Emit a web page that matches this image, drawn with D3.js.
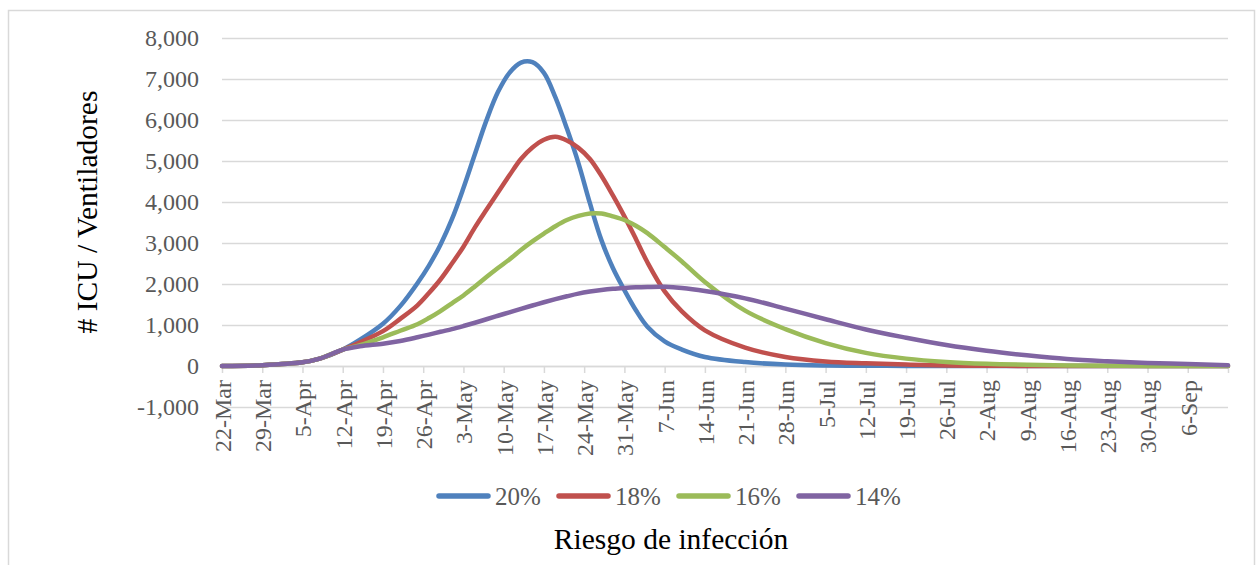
<!DOCTYPE html>
<html>
<head>
<meta charset="utf-8">
<script src="https://cdn.jsdelivr.net/npm/d3@7"></script>
<style>
  body { margin: 0; background: #fff; }
  svg { display: block; font-family: "Liberation Serif", serif; }
</style>
</head>
<body>
<div id="chart"></div>
<script>
// Days counted from 22-Mar
const days = [0, 7, 14, 17, 21, 24, 28, 31, 34, 36, 38, 40, 42, 44, 46, 48, 50, 52, 54, 56, 58, 60, 62, 64, 66, 68, 70, 72, 74, 77, 80, 84, 91, 98, 105, 112, 119, 126, 133, 140, 147, 154, 161, 168, 175];

const seriesNames = ["20%", "18%", "16%", "14%"];
const seriesColors = ["#4f81bd", "#c0504d", "#9bbb59", "#8064a2"];

const risk20 = [0, 20, 90, 180, 400, 640, 1030, 1460, 2020, 2450, 2960, 3580, 4340, 5170, 5990, 6680, 7150, 7400, 7410, 7150, 6550, 5790, 4950, 3970, 3070, 2390, 1850, 1360, 960, 600, 400, 220, 95, 35, 12, 5, 2, 0, 0, 0, 0, 0, 0, 0, 0];
const risk18 = [0, 20, 90, 180, 400, 580, 850, 1150, 1480, 1780, 2110, 2500, 2910, 3380, 3810, 4230, 4650, 5050, 5330, 5520, 5590, 5500, 5320, 5050, 4640, 4160, 3650, 3100, 2530, 1820, 1330, 870, 450, 220, 110, 65, 35, 12, 5, 2, 0, 0, 0, 0, 0];
const risk16 = [0, 20, 90, 180, 400, 510, 700, 860, 1020, 1170, 1340, 1530, 1720, 1940, 2170, 2390, 2600, 2830, 3040, 3230, 3410, 3560, 3660, 3720, 3720, 3650, 3560, 3420, 3240, 2900, 2550, 2050, 1350, 900, 560, 320, 180, 100, 55, 30, 15, 8, 3, 1, 0];
const risk14 = [0, 20, 90, 180, 400, 480, 545, 610, 700, 765, 835, 900, 975, 1055, 1140, 1225, 1310, 1395, 1475, 1555, 1630, 1700, 1765, 1815, 1855, 1885, 1905, 1920, 1928, 1932, 1905, 1830, 1650, 1400, 1140, 890, 690, 510, 370, 260, 170, 115, 75, 50, 20];

const tickDays = [0, 7, 14, 21, 28, 35, 42, 49, 56, 63, 70, 77, 84, 91, 98, 105, 112, 119, 126, 133, 140, 147, 154, 161, 168, 175];
const tickLabels = ["22-Mar", "29-Mar", "5-Apr", "12-Apr", "19-Apr", "26-Apr", "3-May", "10-May", "17-May", "24-May", "31-May", "7-Jun", "14-Jun", "21-Jun", "28-Jun", "5-Jul", "12-Jul", "19-Jul", "26-Jul", "2-Aug", "9-Aug", "16-Aug", "23-Aug", "30-Aug", "6-Sep", ""];
const yTicks = [-1000, 0, 1000, 2000, 3000, 4000, 5000, 6000, 7000, 8000];

const allSeries = [risk20, risk18, risk16, risk14];

const W = 1258, H = 565;
const plot = { left: 222, right: 1228, top: 38, bottom: 407 };

const svg = d3.select("#chart")
    .append("svg")
    .attr("width", W)
    .attr("height", H);

// Chart frame
svg.append("rect")
    .attr("x", 8.5)
    .attr("y", 10.5)
    .attr("width", 1246)
    .attr("height", 570)
    .attr("fill", "none")
    .attr("stroke", "#d9d9d9")
    .attr("stroke-width", 1.5);

// Scales
const x = d3.scaleLinear().domain([0, 175]).range([plot.left, plot.right]);
const y = d3.scaleLinear().domain([-1000, 8000]).range([plot.bottom, plot.top]);

// Excel style numbers: plain hyphen for negatives
const fmt = d3.format(",");
const yFormat = d => fmt(d).replace("\u2212", "-");

// Gridlines + y labels
const yAxis = svg.append("g")
    .attr("transform", `translate(${plot.left},0)`)
    .call(d3.axisLeft(y).tickValues(yTicks).tickSize(-(plot.right - plot.left)).tickPadding(23)
        .tickFormat(yFormat));
yAxis.select(".domain").remove();
yAxis.selectAll("line").attr("stroke", "#d9d9d9").attr("stroke-width", 1.5);
yAxis.selectAll("text")
    .attr("fill", "#595959")
    .style("font-size", "24px")
    .style("font-family", "Liberation Serif, serif");

// X axis on the zero line
const xAxis = svg.append("g")
    .attr("transform", `translate(0,${y(0)})`)
    .call(d3.axisBottom(x).tickValues(tickDays).tickSize(7).tickSizeOuter(0)
        .tickFormat((d, i) => tickLabels[i]));
xAxis.select(".domain").attr("stroke", "#d9d9d9").attr("stroke-width", 1.5);
xAxis.selectAll("line").attr("stroke", "#d9d9d9").attr("stroke-width", 1.5);
xAxis.selectAll("text")
    .attr("fill", "#595959")
    .style("font-size", "24px")
    .style("font-family", "Liberation Serif, serif")
    .attr("text-anchor", "end")
    .attr("transform", "rotate(-90)")
    .attr("x", -14)
    .attr("y", 0)
    .attr("dy", "0.35em");

// Lines
const line = d3.line()
    .x((d, i) => x(days[i]))
    .y(d => y(d))
    .curve(d3.curveCatmullRom.alpha(0.5));

svg.selectAll(".series")
    .data(allSeries)
    .enter()
    .append("path")
    .attr("class", "series")
    .attr("d", d => line(d))
    .attr("fill", "none")
    .attr("stroke", (d, i) => seriesColors[i])
    .attr("stroke-width", 4.5)
    .attr("stroke-linejoin", "round")
    .attr("stroke-linecap", "round");

// Y axis title
svg.append("text")
    .attr("transform", "translate(97,212) rotate(-90)")
    .attr("text-anchor", "middle")
    .style("font-size", "29.5px")
    .attr("fill", "#000")
    .text("# ICU / Ventiladores");

// Legend
const legendX = [436, 556, 676, 796];
const legend = svg.append("g").attr("transform", "translate(0,496)");
seriesNames.forEach((name, i) => {
    legend.append("line")
        .attr("x1", legendX[i] + 3)
        .attr("x2", legendX[i] + 52)
        .attr("y1", 0)
        .attr("y2", 0)
        .attr("stroke", seriesColors[i])
        .attr("stroke-width", 5.5)
        .attr("stroke-linecap", "round");
    legend.append("text")
        .attr("x", legendX[i] + 59)
        .attr("y", 0)
        .attr("dy", "0.35em")
        .attr("fill", "#595959")
        .style("font-size", "25px")
        .text(name);
});

// Legend title
svg.append("text")
    .attr("x", 671)
    .attr("y", 549)
    .attr("text-anchor", "middle")
    .attr("fill", "#000")
    .style("font-size", "29.5px")
    .text("Riesgo de infección");
</script>
</body>
</html>
